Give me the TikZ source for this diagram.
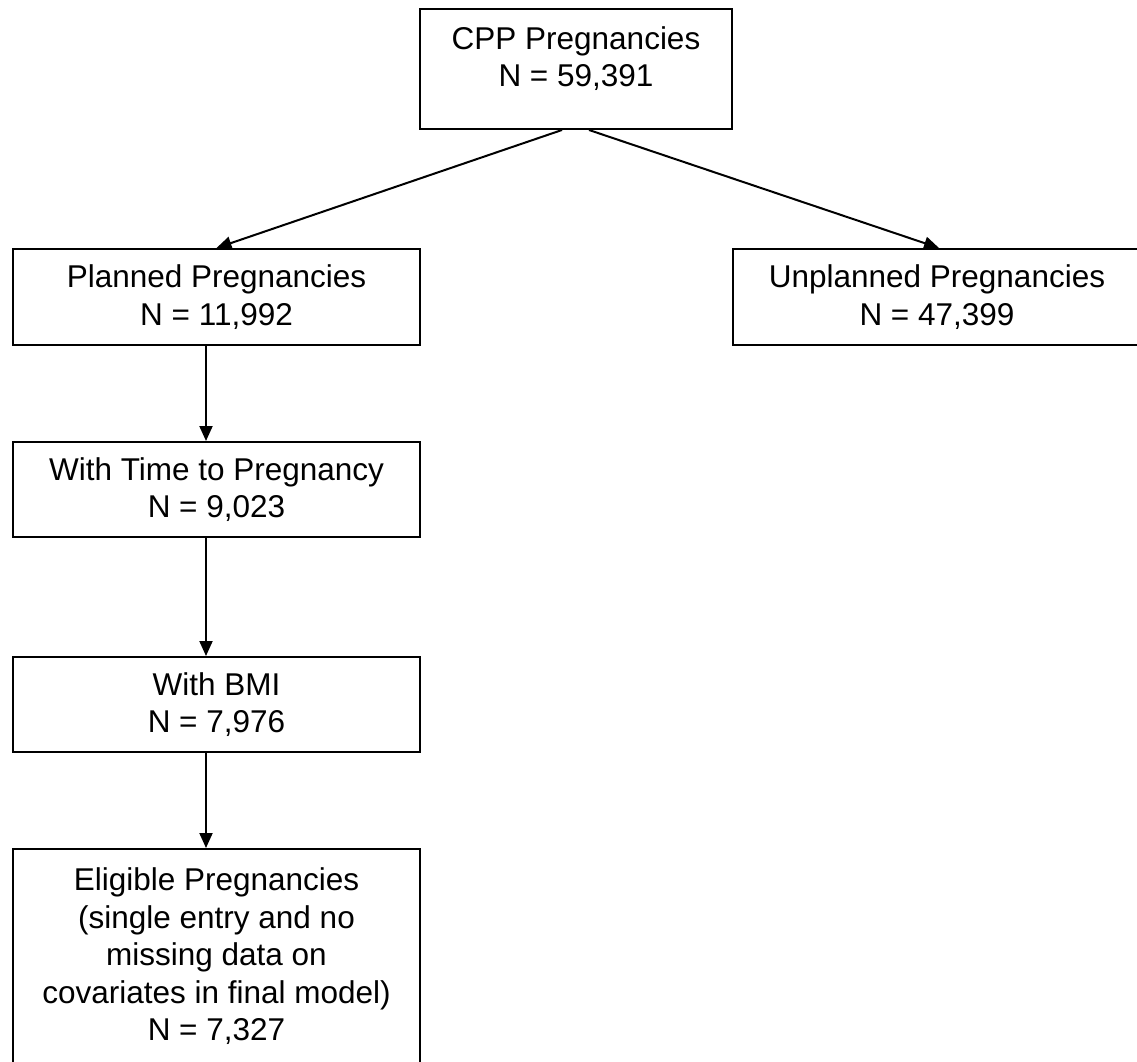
\documentclass[tikz,border=0pt]{standalone}
\usepackage{fontspec}
\setmainfont{Liberation Sans}
\usetikzlibrary{arrows.meta, positioning}

\tikzset{
  stage/.style={draw, line width=2pt, align=center, inner sep=0pt,
    font=\fontsize{31.5}{37.5}\selectfont},
  flow/.style={line width=2pt, -{Triangle[length=15pt, width=13pt]}}
}

\begin{document}
\begin{tikzpicture}[x=1pt, y=1pt]
  \useasboundingbox (0,0) rectangle (1137,-1062);

  % top of the tree
  \node[stage, minimum width=312pt, minimum height=120pt, text depth=25pt] (cpp) at (576,-69)
    {CPP Pregnancies\\N = 59,391};

  % first split
  \node[stage, minimum width=407pt, minimum height=96pt] (planned) at (216.5,-297)
    {Planned Pregnancies\\N = 11,992};
  \node[stage, minimum width=408pt, minimum height=96pt] (unplanned) at (937,-297)
    {Unplanned Pregnancies\\N = 47,399};

  % planned branch, step by step
  \node[stage, minimum width=407pt, minimum height=95pt] (ttp) at (216.5,-489.5)
    {With Time to Pregnancy\\N = 9,023};
  \node[stage, minimum width=407pt, minimum height=95pt] (bmi) at (216.5,-704.5)
    {With BMI\\N = 7,976};
  \node[stage, minimum width=407pt, minimum height=215pt] (eligible) at (216.5,-956.5)
    {Eligible Pregnancies\\(single entry and no\\missing data on\\covariates in final model)\\N = 7,327};

  % connectors
  \draw[flow] ([xshift=-14pt]cpp.south) -- (planned.north);
  \draw[flow] ([xshift=13pt]cpp.south) -- ([xshift=2pt]unplanned.north);
  \draw[flow] ([xshift=-10.5pt]planned.south) -- ([xshift=-10.5pt]ttp.north);
  \draw[flow] ([xshift=-10.5pt]ttp.south) -- ([xshift=-10.5pt]bmi.north);
  \draw[flow] ([xshift=-10.5pt]bmi.south) -- ([xshift=-10.5pt]eligible.north);
\end{tikzpicture}
\end{document}
